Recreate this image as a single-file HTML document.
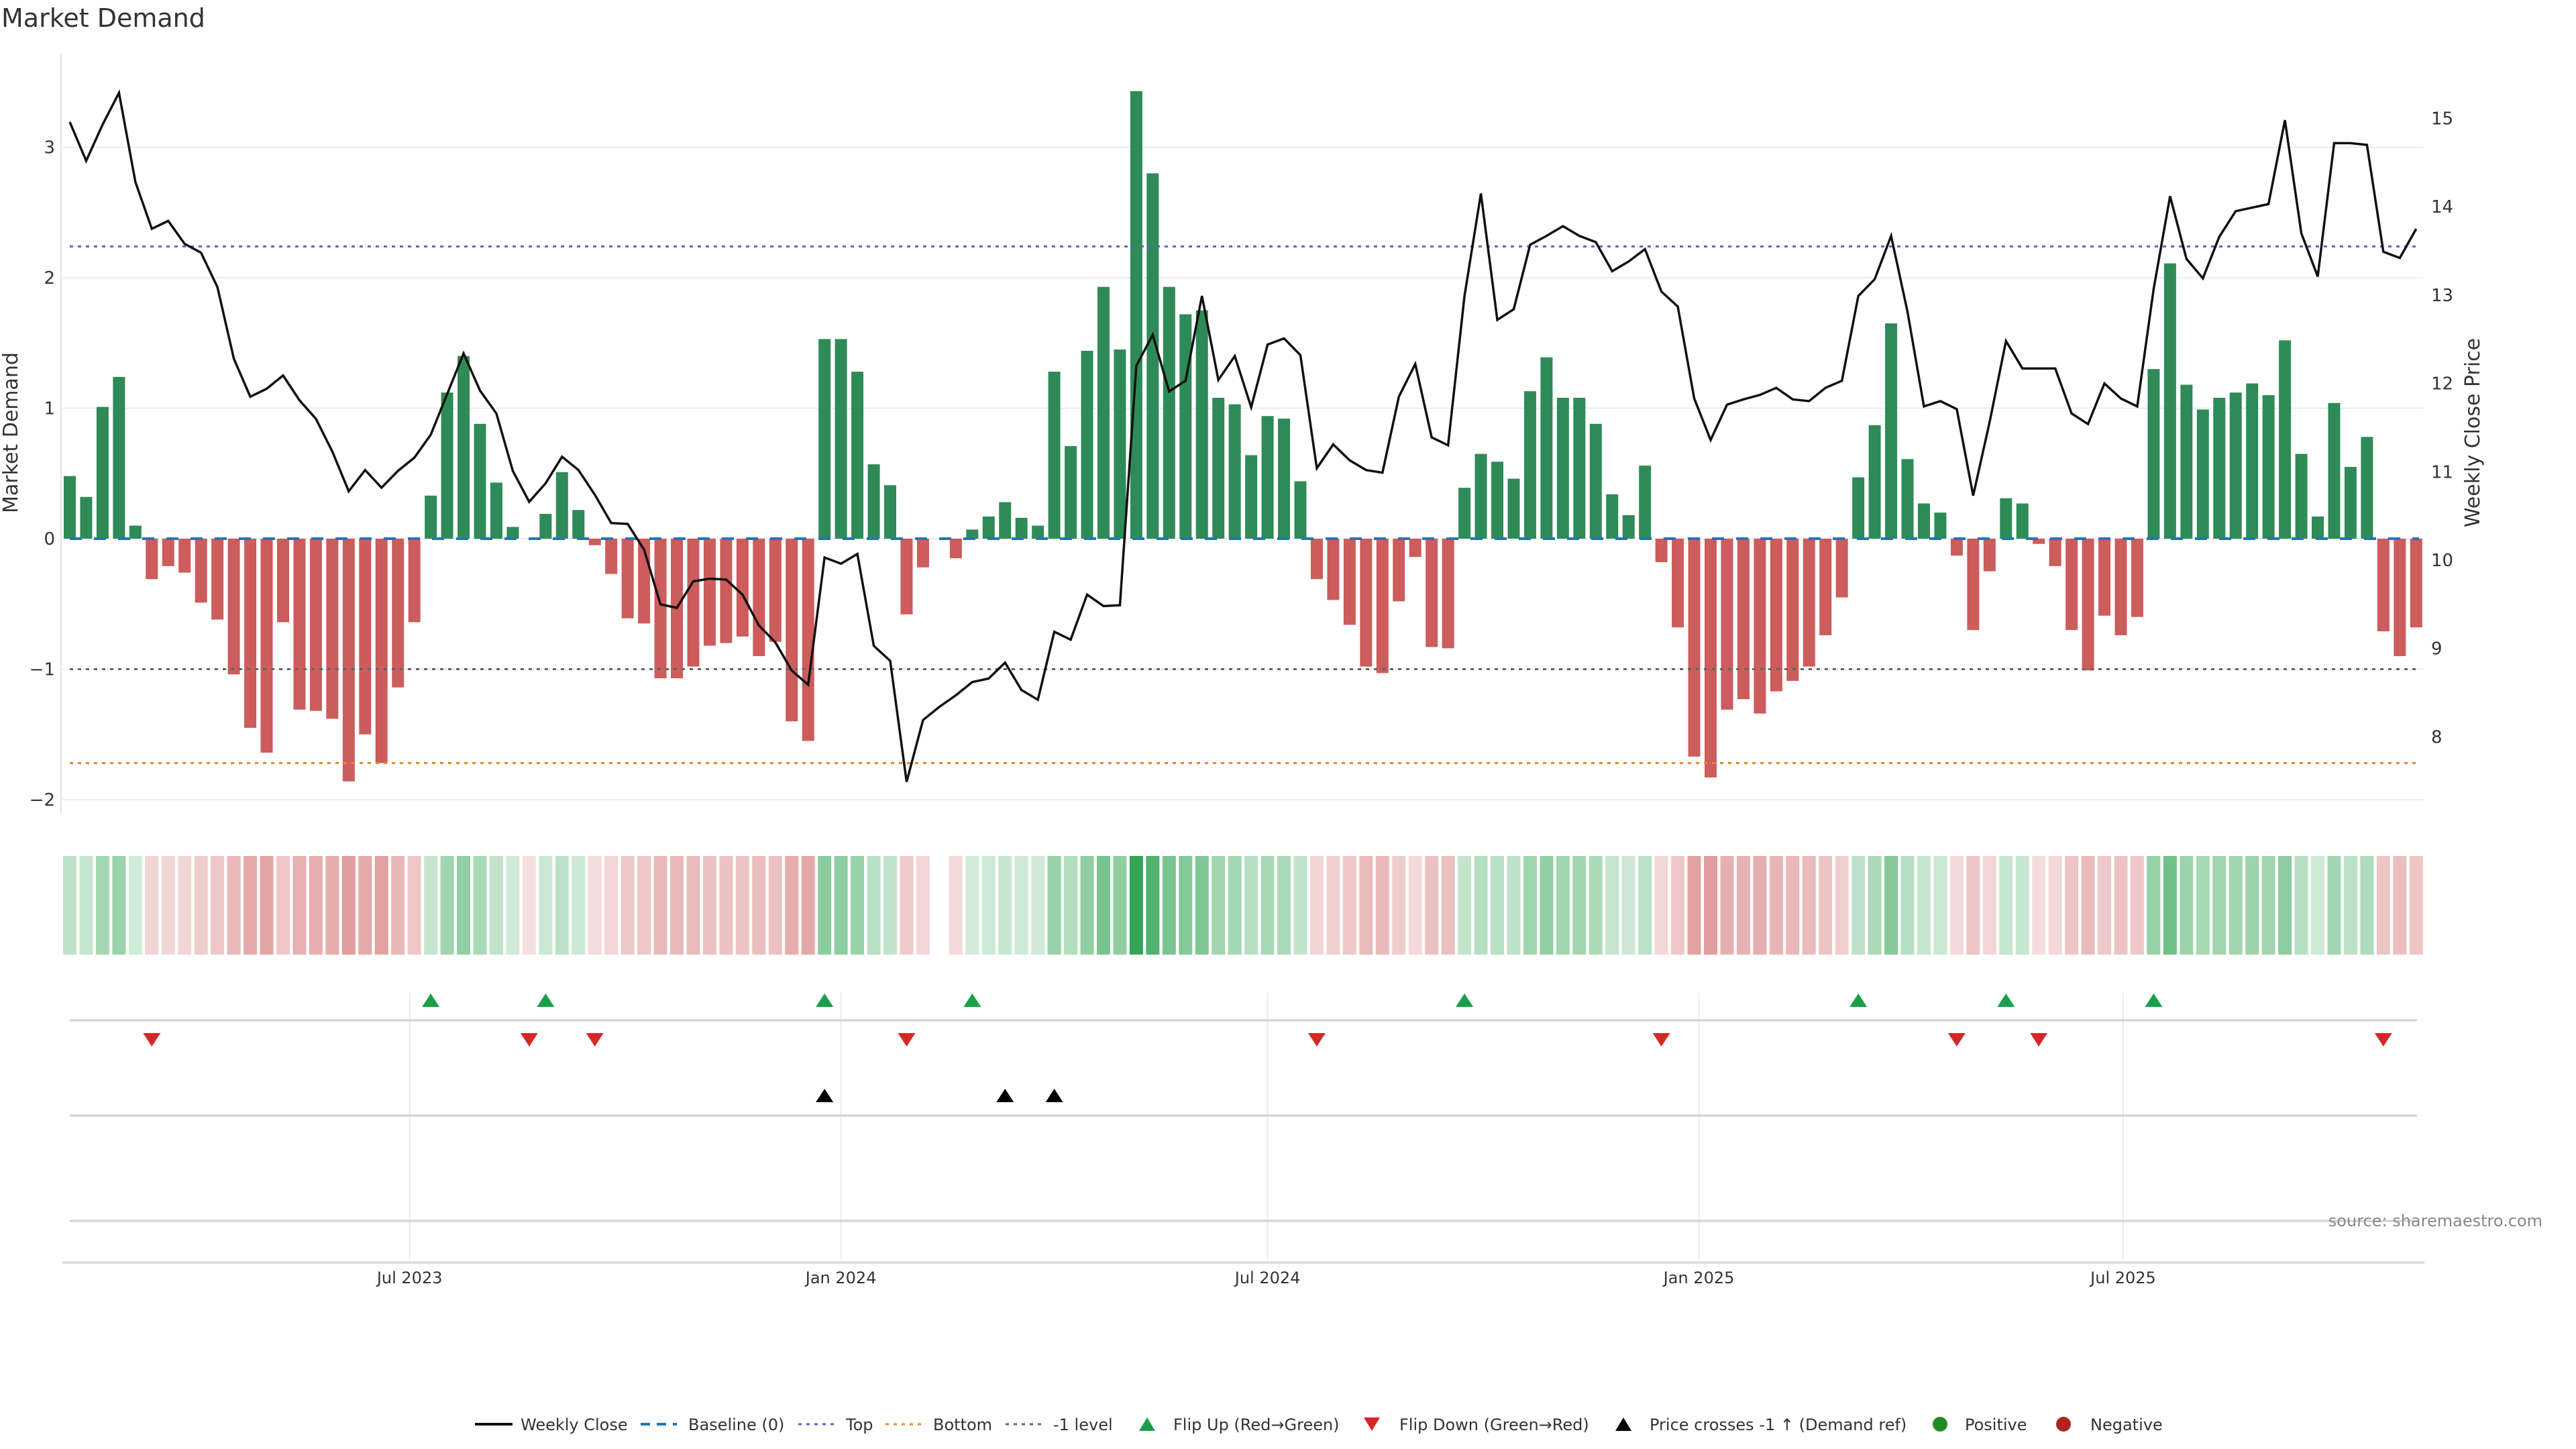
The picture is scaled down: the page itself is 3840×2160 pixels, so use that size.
<!DOCTYPE html>
<html><head><meta charset="utf-8"><style>
html,body{margin:0;padding:0;background:#fff;}
svg{display:block;font-family:"DejaVu Sans","Liberation Sans",sans-serif;}
</style></head><body>
<svg id="chart" width="3840" height="2160" viewBox="0 0 3840 2160" xmlns="http://www.w3.org/2000/svg">
<text x="2" y="40" font-size="38" fill="#333">Market Demand</text>
<g id="grid"></g><g id="ref"></g><g id="bars"></g><g id="line"></g><g id="axes"></g><g id="strip"></g><g id="markers"></g><g id="legend"></g>
<text x="3790" y="1828" font-size="24" fill="#888" text-anchor="end">source: sharemaestro.com</text>
</svg>
<script>
const demand = [0.48,0.32,1.01,1.24,0.10,-0.31,-0.21,-0.26,-0.49,-0.62,-1.04,-1.45,-1.64,-0.64,-1.31,-1.32,-1.38,-1.86,-1.50,-1.72,-1.14,-0.64,0.33,1.12,1.40,0.88,0.43,0.09,0,0.19,0.51,0.22,-0.05,-0.27,-0.61,-0.65,-1.07,-1.07,-0.98,-0.82,-0.80,-0.75,-0.90,-0.79,-1.40,-1.55,1.53,1.53,1.28,0.57,0.41,-0.58,-0.22,null,-0.15,0.07,0.17,0.28,0.16,0.10,1.28,0.71,1.44,1.93,1.45,3.43,2.80,1.93,1.72,1.75,1.08,1.03,0.64,0.94,0.92,0.44,-0.31,-0.47,-0.66,-0.98,-1.03,-0.48,-0.14,-0.83,-0.84,0.39,0.65,0.59,0.46,1.13,1.39,1.08,1.08,0.88,0.34,0.18,0.56,-0.18,-0.68,-1.67,-1.83,-1.31,-1.23,-1.34,-1.17,-1.09,-0.98,-0.74,-0.45,0.47,0.87,1.65,0.61,0.27,0.20,-0.13,-0.70,-0.25,0.31,0.27,-0.04,-0.21,-0.70,-1.01,-0.59,-0.74,-0.60,1.30,2.11,1.18,0.99,1.08,1.12,1.19,1.10,1.52,0.65,0.17,1.04,0.55,0.78,-0.71,-0.90,-0.68];
const price = [14.96,14.52,14.93,15.29,14.28,13.75,13.84,13.58,13.48,13.09,12.28,11.85,11.94,12.09,11.81,11.60,11.23,10.78,11.02,10.82,11.01,11.16,11.42,11.88,12.34,11.92,11.66,11.01,10.66,10.87,11.17,11.02,10.74,10.42,10.41,10.12,9.50,9.46,9.76,9.79,9.78,9.61,9.26,9.07,8.75,8.59,10.03,9.96,10.07,9.03,8.86,7.49,8.19,8.34,8.47,8.62,8.66,8.84,8.53,8.42,9.19,9.10,9.61,9.48,9.49,12.20,12.55,11.91,12.03,12.99,12.04,12.31,11.73,12.44,12.51,12.32,11.04,11.31,11.13,11.02,10.99,11.85,12.22,11.39,11.30,12.99,14.15,12.72,12.84,13.57,13.67,13.78,13.67,13.60,13.27,13.38,13.52,13.04,12.87,11.83,11.36,11.76,11.82,11.87,11.95,11.82,11.80,11.95,12.03,12.99,13.18,13.67,12.81,11.74,11.80,11.71,10.73,11.56,12.48,12.17,12.17,12.17,11.66,11.54,12.00,11.83,11.74,13.07,14.12,13.41,13.19,13.66,13.95,13.99,14.03,14.98,13.70,13.21,14.72,14.72,14.70,13.49,13.42,13.75];
const levels = [2.24, -1.72, -1];
const leftTicks = [3,2,1,0,-1,-2];
const rightTicks = [8,9,10,11,12,13,14,15];
const xTickLabels = ["Jul 2023","Jan 2024","Jul 2024","Jan 2025","Jul 2025"];
const xTickDates = ["2023-07-01","2024-01-01","2024-07-01","2025-01-01","2025-07-01"];
const startDate = "2023-02-06";

const NS="http://www.w3.org/2000/svg";
const X0=104, PITCH=24.46;
function xi(i){return X0+i*PITCH;}
function xd(s){return X0+(new Date(s)-new Date(startDate))/864e5/7*PITCH;}
function yD(v){return 803-v*194.5;}
function yP(p){return 835-(p-10)*131.7;}
function pFromY(y){return 10+(835-y)/131.7;}
function el(tag,attrs,parent,text){const e=document.createElementNS(NS,tag);for(const k in attrs)e.setAttribute(k,attrs[k]);if(text!==undefined)e.textContent=text;parent.appendChild(e);return e;}
const G=id=>document.getElementById(id);

leftTicks.forEach(t=>{
  const g=el('line',{x1:93,x2:3612,y1:yD(t),y2:yD(t),stroke:'#ececec','stroke-width':2},G('grid'));
  
  
  const tx=el('text',{x:82,y:yD(t)+9,'font-size':26,fill:'#333','text-anchor':'end'},G('axes'),t<0?'\u2212'+(-t):String(t));
  
  
});
rightTicks.forEach(t=>{
  const tx=el('text',{x:3624,y:yP(t)+9,'font-size':26,fill:'#333'},G('axes'),String(t));
  
  
});
let ax=el('line',{x1:91,x2:91,y1:81,y2:1215,stroke:'#e2e2e2','stroke-width':2},G('axes'));


let yl=el('text',{x:0,y:0,'font-size':30,fill:'#333','text-anchor':'middle',transform:'translate(26,645) rotate(-90)'},G('axes'),'Market Demand');


let yr=el('text',{x:0,y:0,'font-size':30,fill:'#333','text-anchor':'middle',transform:'translate(3696,645) rotate(-90)'},G('axes'),'Weekly Close Price');



const refStyles=[['#6a5acd','5,7','top-line'],['#e8892a','5,7','bottom-line'],['#666','5,7','minus-one-line']];
levels.forEach((v,k)=>{
  const l=el('line',{x1:104,x2:3606,y1:yD(v),y2:yD(v),stroke:refStyles[k][0],'stroke-width':3,'stroke-dasharray':refStyles[k][1]},G('ref'));
  
  
});

demand.forEach((v,i)=>{
  if(v===null||v===0)return;
  const y=Math.min(yD(v),yD(0)),h=Math.abs(yD(v)-yD(0));
  const b=el('rect',{x:xi(i)-9,y:y,width:18,height:h,fill:v>0?'#2e8b57':'#cd5c5c'},G('bars'));
  
  
});
let bl=el('line',{x1:104,x2:3606,y1:yD(0),y2:yD(0),stroke:'#1f77b4','stroke-width':4,'stroke-dasharray':'18,18'},G('ref'));


G('ref').parentNode.insertBefore(G('bars'),G('ref'));

const pl=el('polyline',{points:price.map((p,i)=>xi(i)+','+yP(p)).join(' '),fill:'none',stroke:'#111','stroke-width':3.5,'stroke-linejoin':'miter'},G('line'));



const maxAbs=Math.max(...demand.filter(v=>v!==null).map(Math.abs));
demand.forEach((v,i)=>{
  if(v===null)return;
  const a=0.2+0.75*Math.abs(v)/maxAbs;
  const c=el('rect',{x:xi(i)-10,y:1276,width:20,height:147,fill:v>0?'rgb(40,160,75)':'rgb(205,92,92)','fill-opacity':a.toFixed(3)},G('strip'));
  
  
});

xTickDates.forEach((d,k)=>{
  const gx=xd(d);
  const g=el('line',{x1:gx,x2:gx,y1:1480,y2:1878,stroke:'#ececec','stroke-width':2},G('grid'));
  
  
  const t=el('text',{x:gx,y:1913,'font-size':24,fill:'#333','text-anchor':'middle'},G('axes'),xTickLabels[k]);
  
  
});
[[1521,'flip-row-line'],[1663,'cross-row-line'],[1820,'extra-row-line']].forEach(r=>{
  const l=el('line',{x1:104,x2:3603,y1:r[0],y2:r[0],stroke:'#d0d0d0','stroke-width':3},G('grid'));
  
  
});
let xa=el('line',{x1:93,x2:3614,y1:1882,y2:1882,stroke:'#d6d6d6','stroke-width':3},G('axes'));



function tri(cx,cy,up,color,name){
  const h=20,w=13;
  const pts=up?`${cx-w},${cy+h/2} ${cx+w},${cy+h/2} ${cx},${cy-h/2}`:`${cx-w},${cy-h/2} ${cx+w},${cy-h/2} ${cx},${cy+h/2}`;
  const t=el('polygon',{points:pts,fill:color},G('markers'));
  
  
}
const thr=pFromY(yD(-1));
for(let i=1;i<demand.length;i++){
  const a=demand[i-1],b=demand[i];
  if(a!==null&&b!==null){
    if(a<=0&&b>0)tri(xi(i),1491,true,'#1a9e4a','flip-up-marker');
    if(a>0&&b<=0)tri(xi(i),1550,false,'#d62728','flip-down-marker');
  }
  if(price[i-1]<thr&&price[i]>=thr)tri(xi(i),1633,true,'#000','price-cross-marker');
}

const LY=2123;
function lt(x,s,name){const t=el('text',{x:x,y:LY+9,'font-size':24,fill:'#333'},G('legend'),s);}
function ll(x1,x2,c,dash,w,name){const l=el('line',{x1:x1,x2:x2,y1:LY,y2:LY,stroke:c,'stroke-width':w,'stroke-dasharray':dash},G('legend'));}
ll(708,764,'#111','none',4,'legend-weekly-close-swatch');lt(776,'Weekly Close','legend-weekly-close');
ll(955,1009,'#1f77b4','14,10',4,'legend-baseline-swatch');lt(1026,'Baseline (0)','legend-baseline');
ll(1190,1244,'#6a5acd','5,7',3,'legend-top-swatch');lt(1261,'Top','legend-top');
ll(1320,1376,'#e8892a','5,7',3,'legend-bottom-swatch');lt(1391,'Bottom','legend-bottom');
ll(1499,1557,'#666','5,7',3,'legend-minus-one-swatch');lt(1570,'-1 level','legend-minus-one');
function ltri(cx,up,c,name){const h=20,w=12;const pts=up?`${cx-w},${LY+h/2} ${cx+w},${LY+h/2} ${cx},${LY-h/2}`:`${cx-w},${LY-h/2} ${cx+w},${LY-h/2} ${cx},${LY+h/2}`;const t=el('polygon',{points:pts,fill:c},G('legend'));}
ltri(1710,true,'#1a9e4a','legend-flip-up-swatch');lt(1749,'Flip Up (Red\u2192Green)','legend-flip-up');
ltri(2045,false,'#d62728','legend-flip-down-swatch');lt(2086,'Flip Down (Green\u2192Red)','legend-flip-down');
ltri(2420,true,'#000','legend-price-cross-swatch');lt(2459,'Price crosses -1 \u2191 (Demand ref)','legend-price-cross');
let c1=el('circle',{cx:2892,cy:LY,r:11,fill:'#228b22'},G('legend'));
lt(2929,'Positive','legend-positive');
let c2=el('circle',{cx:3076,cy:LY,r:11,fill:'#b22222'},G('legend'));
lt(3116,'Negative','legend-negative');
</script>
</body></html>
